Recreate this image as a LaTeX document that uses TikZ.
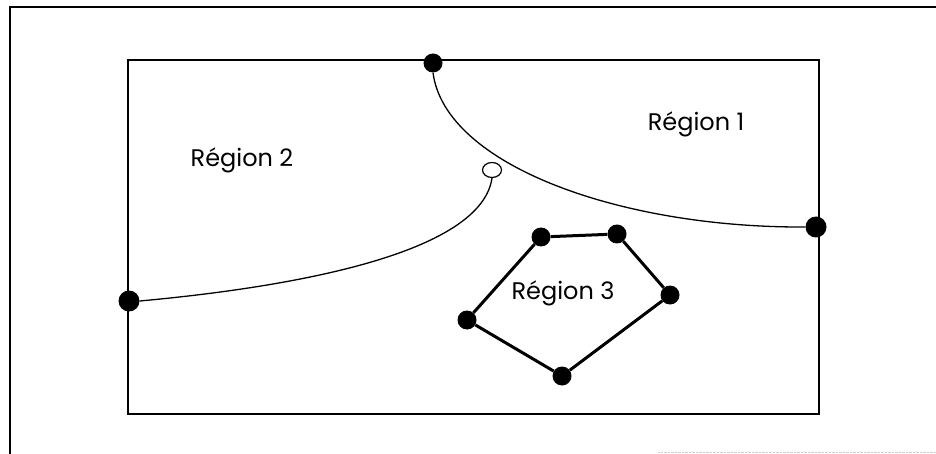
\documentclass[tikz,border=0pt]{standalone}
\usepackage{fontspec}
\setmainfont{Poppins}
\usetikzlibrary{shapes.geometric}

\begin{document}
\begin{tikzpicture}
  [x=1pt,y=-1pt,
   dot/.style={circle,fill,inner sep=0pt,minimum size=#1},
   dot/.default=19pt,
   open dot/.style={ellipse,draw,fill=white,line width=1.2pt,inner sep=0pt,
                    minimum width=19pt,minimum height=15pt},
   frontier/.style={line width=1.3pt},
   region label/.style={anchor=base,font=\fontsize{24}{28}\selectfont}]

  \useasboundingbox (0,0) rectangle (936,454);

  % cadre et domaine
  \draw[line width=2.6pt] (936,7) -- (10,7) -- (10,454);
  \draw[gray!40,densely dotted] (658,452) -- (936,452);
  \draw[line width=1.6pt] (128,60) rectangle (819,414);

  % points du bord
  \node[dot]      (haut)   at (433,63)  {};
  \node[dot=21pt] (droite) at (816,227) {};
  \node[dot=21pt] (gauche) at (129,301) {};
  \node[open dot] (libre)  at (492,170) {};

  % frontieres
  \draw[frontier] (haut.south) .. controls (445,165) and (620,228) .. (droite.west);
  \draw[frontier] (libre.south) .. controls (480,260) and (260,290) .. (gauche.east);

  % region 3
  \node[dot] (p1) at (541,237) {};
  \node[dot] (p2) at (617,234) {};
  \node[dot] (p3) at (670,295) {};
  \node[dot] (p4) at (562,376) {};
  \node[dot] (p5) at (467,320) {};
  \draw[line width=3pt] (p1) -- (p2) -- (p3) -- (p4) -- (p5) -- (p1);

  \node[region label] (r1) at (696,131) {Région 1};
  \node[region label] (r2) at (242,167) {Région 2};
  \node[region label] (r3) at (563,299) {Région 3};
\end{tikzpicture}
\end{document}
